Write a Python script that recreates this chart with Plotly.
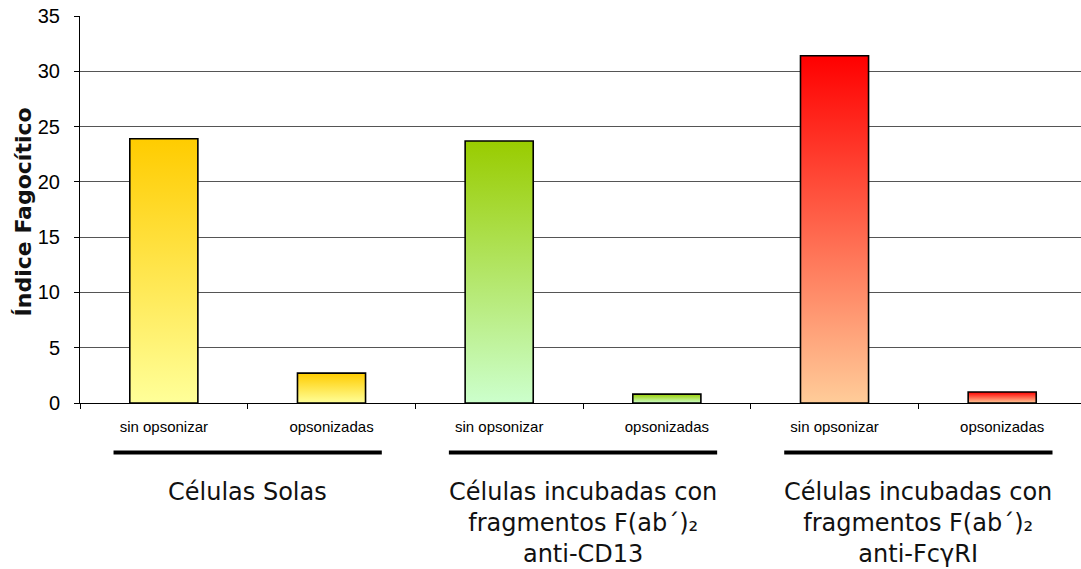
import plotly.graph_objects as go

# Phagocytic index per condition (two bars per group)
categories = ["sin opsonizar", "opsonizadas",
              "sin opsonizar", "opsonizadas",
              "sin opsonizar", "opsonizadas"]
values = [23.9, 2.7, 23.7, 0.8, 31.4, 1.0]

group_labels = [
    "Células Solas",
    "Células incubadas con<br>fragmentos F(ab´)₂<br>anti-CD13",
    "Células incubadas con<br>fragmentos F(ab´)₂<br>anti-FcγRI",
]
# (top colour, bottom colour) of each group's gradient
group_colors = [("#FFCC00", "#FFFF99"),
                ("#99CC00", "#CCFFCC"),
                ("#FF0000", "#FFCC99")]

y_ticks = [0, 5, 10, 15, 20, 25, 30, 35]

BAR_HALF = 0.203

fig = go.Figure()

for i, v in enumerate(values):
    top, bottom = group_colors[i // 2]
    x0, x1 = i - BAR_HALF, i + BAR_HALF
    fig.add_trace(go.Scatter(
        x=[x0, x1, x1, x0, x0],
        y=[0, 0, v, v, 0],
        mode="lines",
        fill="toself",
        fillgradient=dict(type="vertical", start=0, stop=v,
                          colorscale=[[0, bottom], [1, top]]),
        line=dict(color="#000000", width=1.6),
        name=categories[i],
        text=f"{v}",
        hoverinfo="text",
        showlegend=False,
    ))

# group underlines and captions below the axis
for g, label in enumerate(group_labels):
    c = 2 * g + 0.5
    fig.add_shape(type="line", xref="x", yref="paper",
                  x0=c - 0.8, x1=c + 0.8, y0=-0.128, y1=-0.128,
                  line=dict(color="#000000", width=4))
    fig.add_annotation(x=c, y=-0.188, xref="x", yref="paper",
                       text=label, showarrow=False,
                       xanchor="center", yanchor="top", align="center",
                       font=dict(family="DejaVu Sans", size=24, color="#111111"))

fig.add_annotation(x=-0.057, y=0.495, xref="paper", yref="paper",
                   text="<b>Índice Fagocítico</b>", textangle=-90,
                   showarrow=False, xanchor="center", yanchor="middle",
                   font=dict(family="DejaVu Sans", size=22, color="#111111"))

fig.update_layout(
    width=1081, height=569,
    margin=dict(l=80, r=0, t=16, b=166),
    paper_bgcolor="#FFFFFF", plot_bgcolor="#FFFFFF",
    xaxis=dict(
        range=[-0.5, 5.47],
        tickmode="array", tickvals=list(range(len(categories))),
        ticktext=categories, ticks="",
        tickfont=dict(family="Liberation Sans, Arial", size=15, color="#000000"),
        ticklabelstandoff=10,
        showgrid=False, zeroline=False,
        showline=True, linecolor="#000000", linewidth=1,
        minor=dict(tickvals=[-0.5, 0.5, 1.5, 2.5, 3.5, 4.5],
                   ticks="outside", ticklen=5, tickcolor="#000000",
                   showgrid=False),
    ),
    yaxis=dict(
        range=[0, 35],
        tickmode="array", tickvals=y_ticks,
        ticks="outside", ticklen=5, tickcolor="#000000",
        tickfont=dict(family="Liberation Sans, Arial", size=20, color="#000000"),
        ticklabelstandoff=10,
        showgrid=True, gridcolor="#555555", gridwidth=1,
        zeroline=False,
        showline=True, linecolor="#000000", linewidth=1,
    ),
)

fig.write_html("out.html")
